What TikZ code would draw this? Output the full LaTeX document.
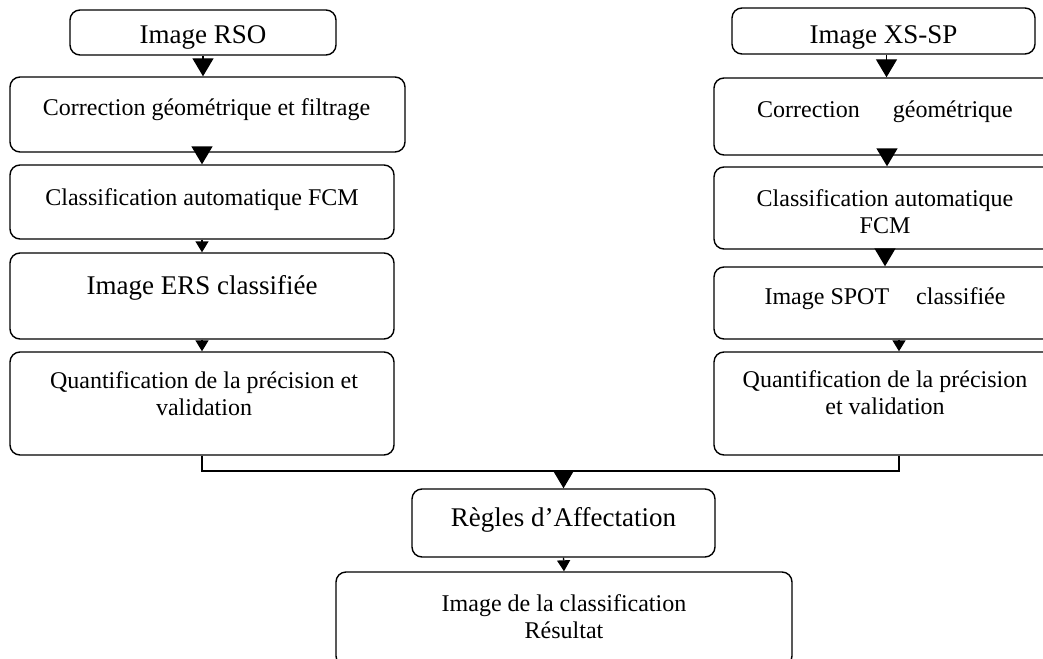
\documentclass[tikz,border=0pt]{standalone}
\usepackage{fontspec}
\setmainfont{Liberation Serif}
\usetikzlibrary{arrows.meta,calc,positioning}

\begin{document}
\begin{tikzpicture}[x=1pt,y=-1pt,{box/.style={rectangle,rounded corners=10pt,draw,line width=1.4pt,inner sep=0pt}},{txt/.style={anchor=base,align=center,inner sep=0pt,font=\fontsize{24}{27}\selectfont}},{txtbig/.style={txt,font=\fontsize{27}{30}\selectfont}},{linest/.style={line width=1.4pt}},{bigarr/.style={linest,-{Triangle[length=18pt,width=21pt]}}},{smallarr/.style={linest,-{Triangle[length=11pt,width=13pt]}}}]
	\useasboundingbox (0,0) rectangle (1043,658);

	%%left chain (RSO)
	\node [box,minimum width=266,minimum height=45] (rso) at (203,32.5) {};
	\node [box,minimum width=395,minimum height=75] (corrRSO) at (207.5,114.5) {};
	\node [box,minimum width=384,minimum height=74] (fcmRSO) at (202,202) {};
	\node [box,minimum width=384,minimum height=86] (ersRSO) at (202,296) {};
	\node [box,minimum width=384,minimum height=103] (quantRSO) at (202,403.5) {};

	\node [txtbig] (rsoT) at ($(rso.north)+(0,34)$) {Image RSO};
	\node [txt] (corrRSOT) at ($(corrRSO.north)+(-1,39)$) {Correction géométrique et filtrage};
	\node [txt] (fcmRSOT) at ($(fcmRSO.north)+(0,41)$) {Classification automatique FCM};
	\node [txtbig] (ersRSOT) at ($(ersRSO.north)+(0,42)$) {Image ERS classifiée};
	\node [txt] (quantRSOT) at ($(quantRSO.north)+(2,64)$) {Quantification de la précision et\\validation};

	%%right chain (XS-SP)
	\node [box,minimum width=303,minimum height=46] (xssp) at (883.5,31) {};
	\node [box,minimum width=342,minimum height=77] (corrXS) at (885,116.5) {};
	\node [box,minimum width=342,minimum height=82] (fcmXS) at (885,208) {};
	\node [box,minimum width=342,minimum height=72] (spotXS) at (885,303) {};
	\node [box,minimum width=342,minimum height=103] (quantXS) at (885,403.5) {};

	\node [txtbig] (xsspT) at ($(xssp.north)+(0,36)$) {Image XS-SP};
	\node [txt] (corrXST) at ($(corrXS.north)+(0,40)$) {Correction\hspace{33pt}géométrique};
	\node [txt] (fcmXST) at ($(fcmXS.north)+(0,67)$) {Classification automatique\\FCM};
	\node [txt] (spotXST) at ($(spotXS.north)+(0,38)$) {Image SPOT\hspace{27pt}classifiée};
	\node [txt] (quantXST) at ($(quantXS.north)+(0,63)$) {Quantification de la précision\\et validation};

	%%fusion
	\node [box,minimum width=303,minimum height=68] (regles) at (563.5,523) {};
	\node [box,minimum width=456,minimum height=94] (resultat) at (564,619) {};
	\node [txtbig] (reglesT) at ($(regles.north)+(0,38)$) {Règles d’Affectation};
	\node [txt] (resultatT) at ($(resultat.north)+(0,67)$) {Image de la classification\\Résultat};

	%%arrows
	\draw [bigarr] (rso.south) -- (rso.south |- corrRSO.north);
	\draw [bigarr] (fcmRSO.north |- corrRSO.south) -- (fcmRSO.north);
	\draw [smallarr] (fcmRSO.south) -- (ersRSO.north);
	\draw [smallarr] (ersRSO.south) -- (quantRSO.north);

	\draw [bigarr] ([xshift=3pt]xssp.south) -- ([xshift=3pt]xssp.south |- corrXS.north);
	\draw [bigarr] ([xshift=2pt]corrXS.south) -- ([xshift=2pt]fcmXS.north);
	\draw [bigarr] (fcmXS.south) -- (spotXS.north);
	\draw [smallarr] ([xshift=14pt]spotXS.south) -- ([xshift=14pt]quantXS.north);

	\coordinate (mid) at (563.5,471);
	\draw [linest] (quantRSO.south) |- (mid) -| ([xshift=14pt]quantXS.south);
	\draw [bigarr] (mid) -- (regles.north);
	\draw [smallarr] (regles.south) -- (resultat.north);
\end{tikzpicture}
\end{document}
